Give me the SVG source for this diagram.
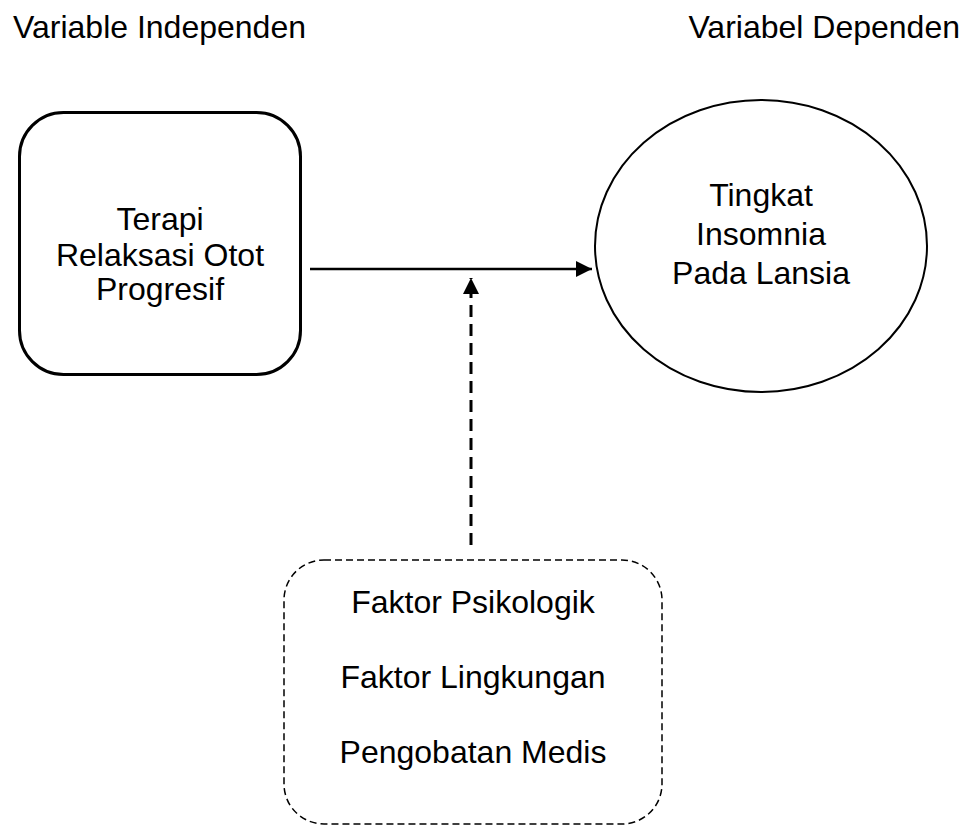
<svg xmlns="http://www.w3.org/2000/svg" width="966" height="826" viewBox="0 0 966 826">
<style>
text{font-family:"Liberation Sans",Arial,sans-serif;font-size:32px;fill:#000}
.c{text-anchor:middle}
.box{fill:#fff;stroke:#000}
</style>
<defs>
<marker id="ah2" markerWidth="16" markerHeight="16" refX="16" refY="8" orient="auto" markerUnits="userSpaceOnUse" viewBox="0 0 16 16">
<path d="M0,0 L16,8 L0,16 Z" fill="#000"/>
</marker>
</defs>
<rect width="966" height="826" fill="#fff"/>
<g id="header">
<text x="13" y="38">Variable Independen</text>
<text x="960" y="38" text-anchor="end">Variabel Dependen</text>
</g>
<g id="connectors">
<line x1="310" y1="269" x2="592" y2="269" stroke="#000" stroke-width="2.5" marker-end="url(#ah2)"/>
<line x1="471" y1="545" x2="471" y2="278" stroke="#000" stroke-width="3" stroke-dasharray="12 7" marker-end="url(#ah2)"/>
</g>
<g id="node-terapi">
<rect class="box" x="19.5" y="112.5" width="281" height="262" rx="44" ry="44" stroke-width="3"/>
<text class="c" x="160" y="230">Terapi</text>
<text class="c" x="160" y="266">Relaksasi Otot</text>
<text class="c" x="160" y="300">Progresif</text>
</g>
<g id="node-insomnia">
<ellipse class="box" cx="761" cy="246" rx="166" ry="146" stroke-width="2"/>
<text class="c" x="761" y="206">Tingkat</text>
<text class="c" x="761" y="245">Insomnia</text>
<text class="c" x="761" y="284">Pada Lansia</text>
</g>
<g id="node-faktor">
<rect class="box" x="284" y="560" width="378" height="264" rx="40" ry="40" stroke-width="1.5" stroke-dasharray="7 4"/>
<text class="c" x="473" y="613">Faktor Psikologik</text>
<text class="c" x="473" y="688">Faktor Lingkungan</text>
<text class="c" x="473" y="763">Pengobatan Medis</text>
</g>
</svg>
